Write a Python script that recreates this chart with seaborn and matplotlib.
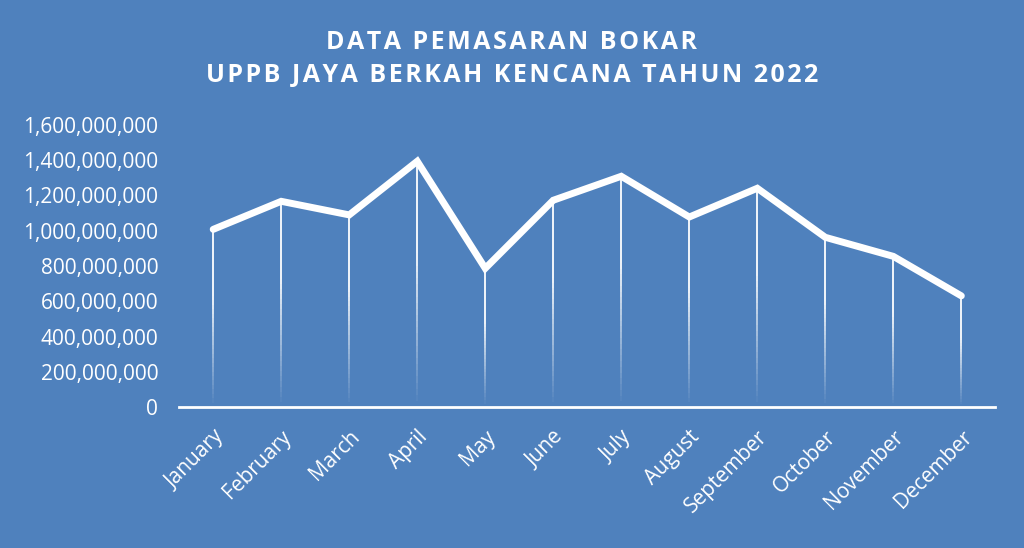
import numpy as np
import pandas as pd
import matplotlib
matplotlib.use('Agg')
import matplotlib.pyplot as plt
import seaborn as sns
from matplotlib.collections import LineCollection
from matplotlib.ticker import FuncFormatter

months = ['January', 'February', 'March', 'April', 'May', 'June', 'July',
          'August', 'September', 'October', 'November', 'December']
sales = [1008000000, 1167000000, 1090000000, 1394000000, 787000000, 1173000000,
         1309000000, 1078000000, 1241000000, 963000000, 855000000, 631000000]
title_lines = ['DATA PEMASARAN BOKAR', 'UPPB JAYA BERKAH KENCANA TAHUN 2022']

BG = '#4F81BD'
FONT = ['Open Sans', 'DejaVu Sans']


def spaced(s):
    # mimic the letter-spaced chart title
    return '\u200a'.join(list(s))


def main():
    sns.set_style('white')
    plt.rcParams['font.family'] = FONT

    df = pd.DataFrame({'Month': months, 'Sales': sales})
    df['x'] = np.arange(len(df))

    fig = plt.figure(figsize=(10.24, 5.48), dpi=100, facecolor=BG)
    ax = fig.add_axes([0.175, 0.257, 0.797, 0.515])
    ax.set_facecolor(BG)

    # drop lines fading out towards the axis
    n_seg = 40
    for x, y in zip(df['x'], df['Sales']):
        ys = np.linspace(0, y, n_seg + 1)
        segs = [[(x, ys[i]), (x, ys[i + 1])] for i in range(n_seg)]
        alphas = np.clip(np.linspace(0.0, 1.6, n_seg), 0, 1)
        colors = [(1, 1, 1, a) for a in alphas]
        ax.add_collection(LineCollection(segs, colors=colors, linewidths=1.3, zorder=2))

    sns.lineplot(data=df, x='x', y='Sales', ax=ax, color='white', linewidth=5,
                 solid_joinstyle='miter', solid_capstyle='round', zorder=3)

    ax.set_xlim(-0.5, len(df) - 0.5)
    ax.set_ylim(0, 1600000000)
    ax.set_yticks(np.arange(0, 1600000001, 200000000))
    ax.yaxis.set_major_formatter(FuncFormatter(lambda v, p: f'{int(v):,}'))
    ax.set_xticks(df['x'])
    ax.set_xticklabels(df['Month'], rotation=45, ha='right', rotation_mode='anchor')
    ax.tick_params(axis='both', colors='white', labelsize=15, length=0)
    ax.tick_params(axis='y', pad=15)
    ax.tick_params(axis='x', pad=14)
    ax.set_xlabel('')
    ax.set_ylabel('')

    for s in ['top', 'right', 'left']:
        ax.spines[s].set_visible(False)
    ax.spines['bottom'].set_color('white')
    ax.spines['bottom'].set_linewidth(2)
    ax.spines['bottom'].set_zorder(4)

    fig.text(0.5, 0.923, spaced(title_lines[0]), ha='center', va='center', color='white',
             fontsize=18, fontweight='bold', family=FONT)
    fig.text(0.5, 0.863, spaced(title_lines[1]), ha='center', va='center', color='white',
             fontsize=18, fontweight='bold', family=FONT)

    fig.savefig('out.png', dpi=100, facecolor=BG)


if __name__ == '__main__':
    main()
